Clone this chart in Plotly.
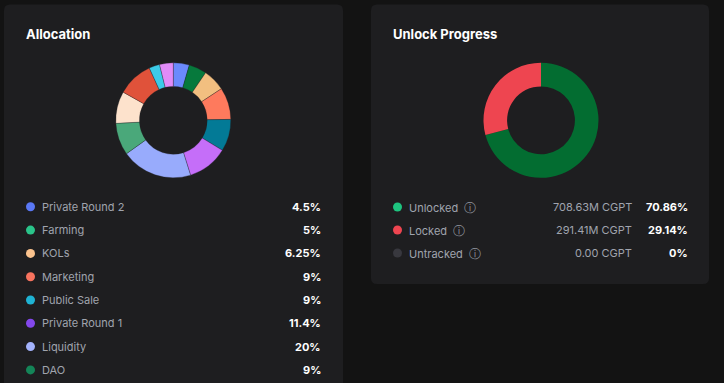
import plotly.graph_objects as go

# ---------------- data ----------------
alloc_labels = ["Private Round 2", "Farming", "KOLs", "Marketing", "Public Sale",
                "Private Round 1", "Liquidity", "DAO", "Team", "Ecosystem",
                "Advisors", "Airdrop"]
alloc_values = [4.5, 5, 6.25, 9, 9, 11.4, 20, 9, 9, 10, 3, 3.85]
alloc_slice_colors = ["#6B8AFD", "#06793C", "#F2BF80", "#FE7A5D", "#037A96",
                      "#C56EF9", "#98ABFC", "#4AA87A", "#FDE2CC", "#E0523A",
                      "#3CCBE8", "#E18BF8"]
alloc_dot_colors = ["#5A78F5", "#2AC48A", "#FBC38E", "#F8735E", "#1FB3D3",
                    "#8347EB", "#A3B2FC", "#148558", "#FDE2CC", "#E0523A",
                    "#3CCBE8", "#E18BF8"]

unlock_labels = ["Unlocked", "Locked", "Untracked"]
unlock_amounts_m = [708.63, 291.41, 0.00]
unlock_slice_colors = ["#036D31", "#EE4550", "#3A3A40"]
unlock_dot_colors = ["#1EC47F", "#EE4550", "#38383E"]
unit = "CGPT"

W, H = 724, 383
BG = "#131313"
CARD = "#1E1E20"
FONT = "Inter"

fig = go.Figure()

def rrect(x0, y0, x1, y1, r):
    return (f"M{x0+r},{y0} L{x1-r},{y0} Q{x1},{y0} {x1},{y0+r} "
            f"L{x1},{y1-r} Q{x1},{y1} {x1-r},{y1} L{x0+r},{y1} "
            f"Q{x0},{y1} {x0},{y1-r} L{x0},{y0+r} Q{x0},{y0} {x0+r},{y0} Z")

shapes = [
    dict(type="path", path=rrect(4, 4.5, 343, 400, 6), xref="x", yref="y",
         fillcolor=CARD, line=dict(width=0), layer="below"),
    dict(type="path", path=rrect(371, 4.5, 709, 284, 6), xref="x", yref="y",
         fillcolor=CARD, line=dict(width=0), layer="below"),
]

def dom(cx, cy, r):
    return dict(x=[(cx - r) / W, (cx + r) / W],
                y=[1 - (cy + r) / H, 1 - (cy - r) / H])

fig.add_trace(go.Pie(
    labels=alloc_labels, values=alloc_values, sort=False, direction="clockwise",
    rotation=0, hole=0.59, textinfo="none", hoverinfo="label+percent",
    marker=dict(colors=alloc_slice_colors, line=dict(color="rgba(30,30,32,0.5)", width=0.6)),
    domain=dom(173.3, 120.3, 57.5), showlegend=False))

fig.add_trace(go.Pie(
    labels=unlock_labels, values=unlock_amounts_m, sort=False, direction="clockwise",
    rotation=0, hole=0.59, textinfo="none", hoverinfo="label+percent",
    marker=dict(colors=unlock_slice_colors, line=dict(width=0)),
    domain=dom(541, 120.3, 57.5), showlegend=False))

ann = []
def text(x, y, s, size, color, anchor="left", bold=False):
    ann.append(dict(x=x, y=y, xref="x", yref="y", text=(f"<b>{s}</b>" if bold else s),
                    showarrow=False, xanchor=anchor, yanchor="middle",
                    font=dict(family=FONT, size=size, color=color)))

text(24, 34, "Allocation", 13, "#FFFFFF", bold=True)
text(391, 34, "Unlock Progress", 13, "#FFFFFF", bold=True)

# allocation legend rows
row_y0, row_dy = 206.8, 23.3
dx, dy, dc = [], [], []
for i, (lab, v) in enumerate(zip(alloc_labels, alloc_values)):
    y = row_y0 + i * row_dy
    if y > H - 6:
        break
    dx.append(30.5); dy.append(y); dc.append(alloc_dot_colors[i])
    text(40, y, lab, 11, "#A0A4AE")
    text(323, y, f"{v:g}%", 11, "#FFFFFF", anchor="right", bold=True)

# unlock legend rows
tot_u = sum(unlock_amounts_m)
for i, (lab, a) in enumerate(zip(unlock_labels, unlock_amounts_m)):
    y = 207 + i * 23
    dx.append(397.5); dy.append(y); dc.append(unlock_dot_colors[i])
    text(406.5, y, f"{lab}  <span style='font-size:12px;color:#8E929C'>ⓘ</span>", 11, "#A0A4AE")
    amt = f"{a:.2f}M {unit}" if a > 0 else f"{a:.2f} {unit}"
    text(634, y, amt, 11, "#A0A4AE", anchor="right")
    pct = a / tot_u * 100
    text(690, y, f"{pct:.2f}%" if pct > 0 else "0%", 11, "#FFFFFF", anchor="right", bold=True)

fig.add_trace(go.Scatter(x=dx, y=dy, mode="markers", hoverinfo="skip", showlegend=False,
                         marker=dict(size=9, color=dc, line=dict(width=0))))

fig.update_layout(
    width=W, height=H, margin=dict(l=0, r=0, t=0, b=0),
    paper_bgcolor=BG, plot_bgcolor="rgba(0,0,0,0)",
    xaxis=dict(range=[0, W], visible=False, fixedrange=True),
    yaxis=dict(range=[H, 0], visible=False, fixedrange=True),
    shapes=shapes, annotations=ann,
)
fig.write_html(
    "out.html",
    config={"displayModeBar": False},
    post_script="document.body.style.margin='0';document.body.style.padding='0';"
                "document.body.style.background='#131313';document.body.style.overflow='hidden';",
)
